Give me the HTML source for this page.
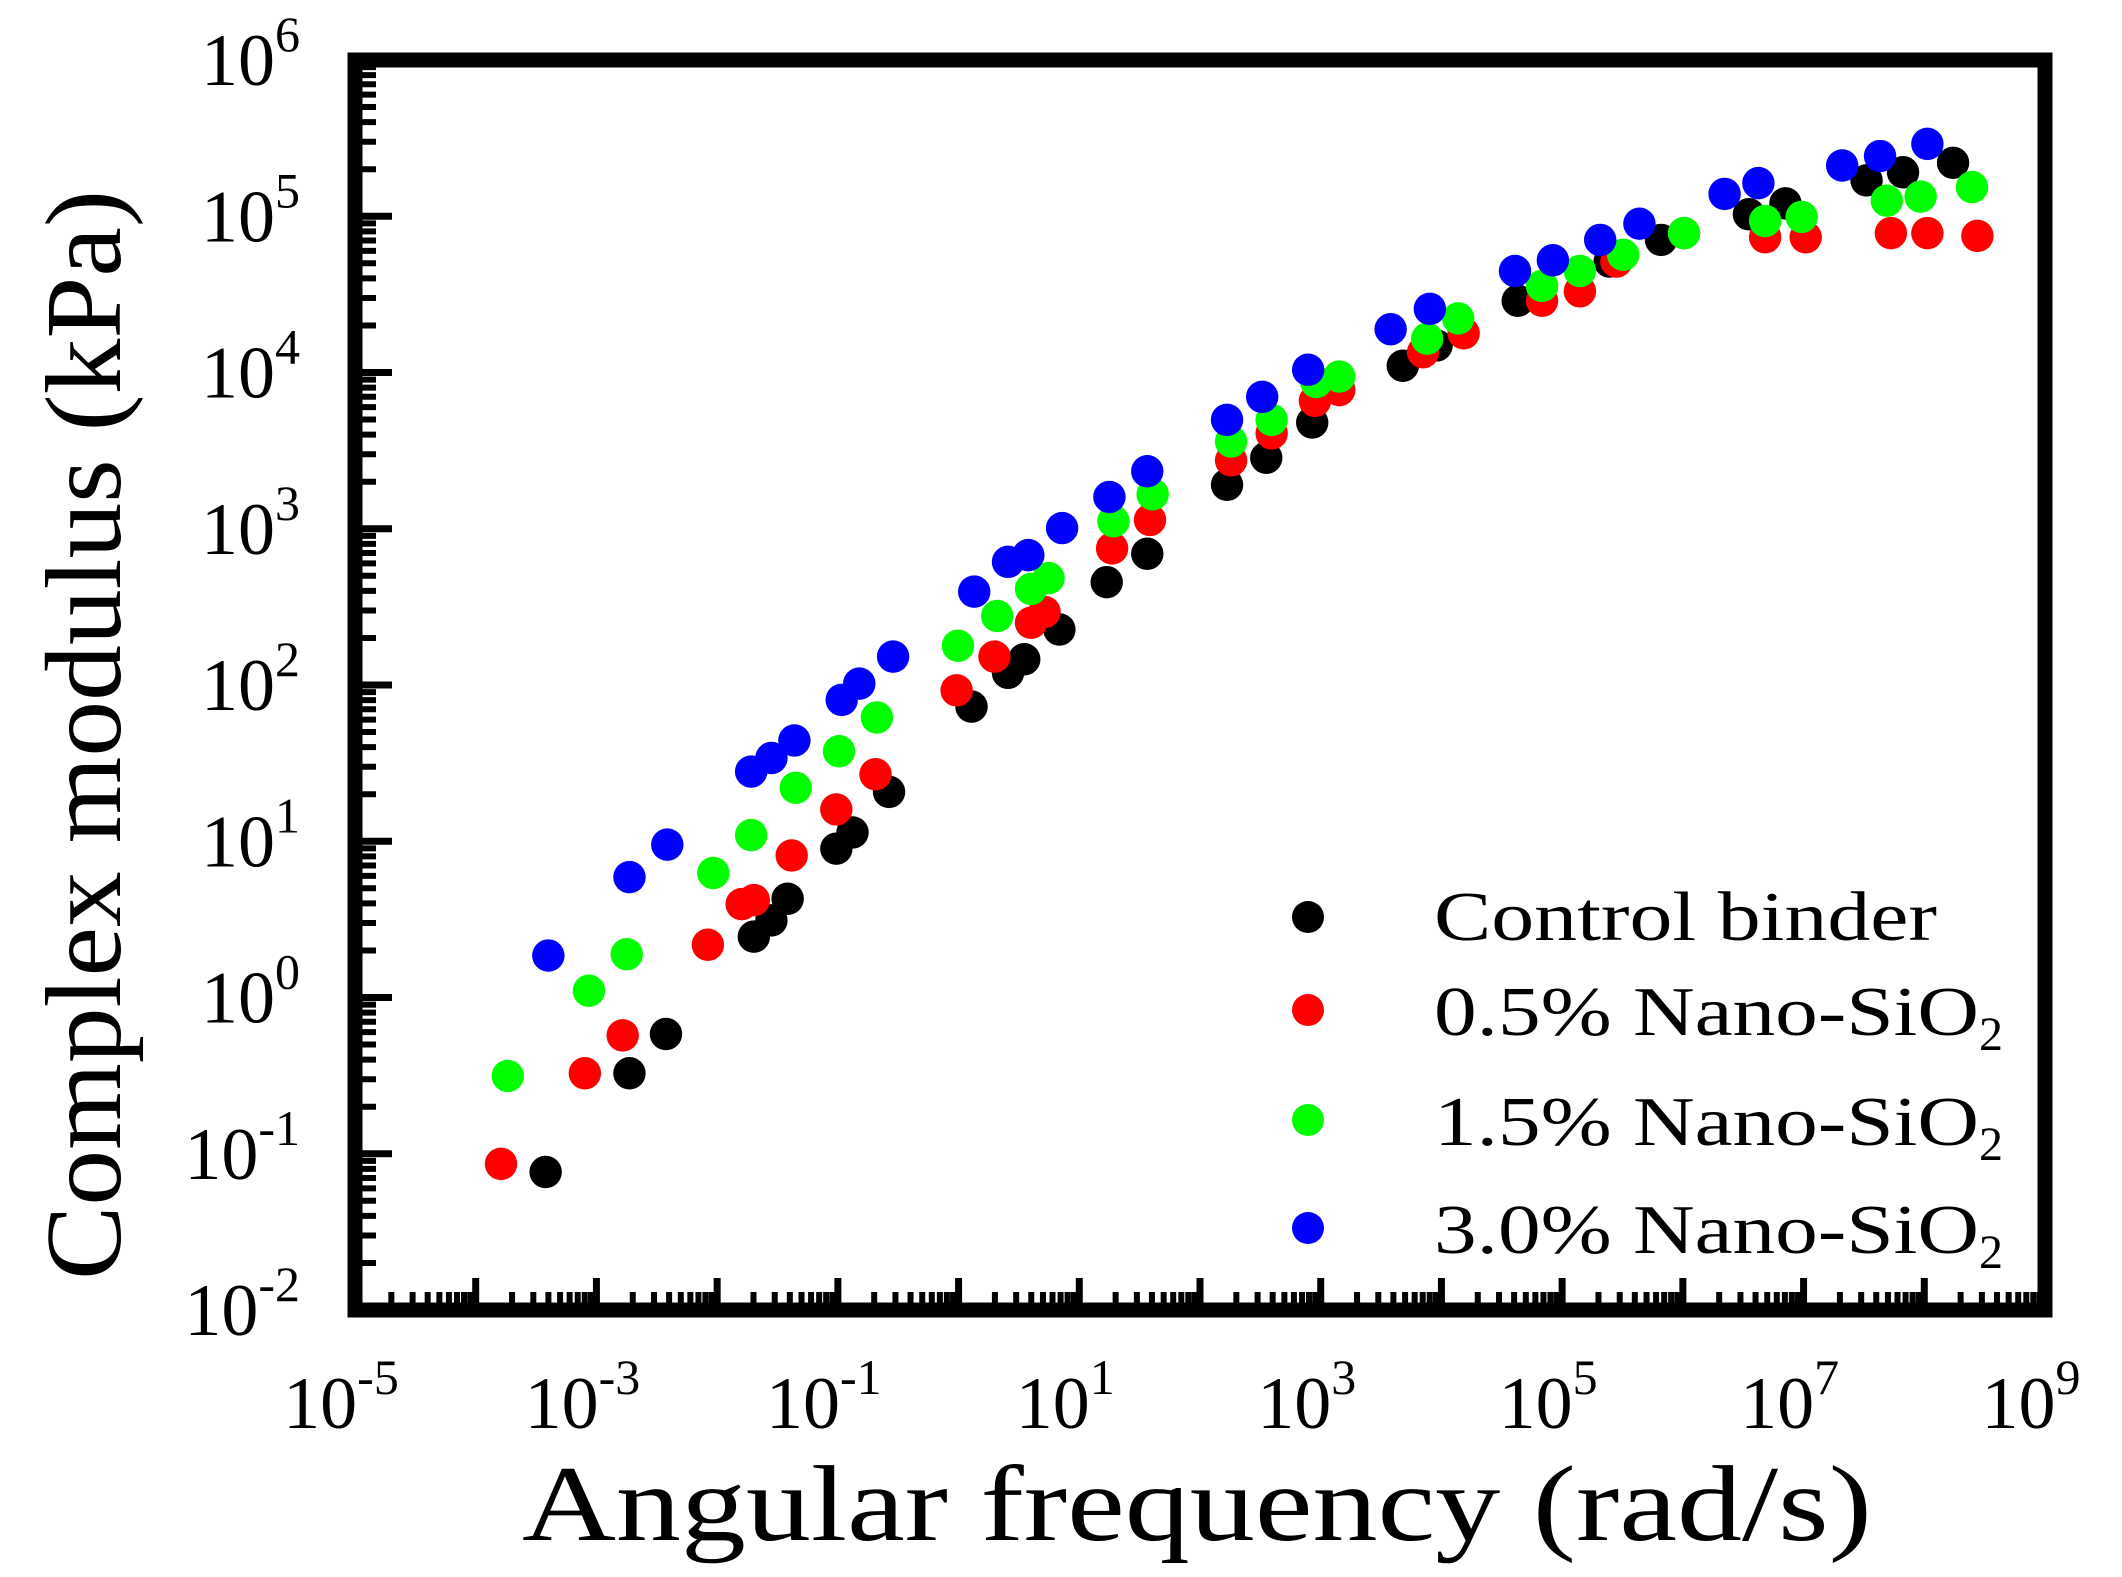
<!DOCTYPE html>
<html><head><meta charset="utf-8"><style>
html,body{margin:0;padding:0;background:#fff;}
svg{display:block;}
text{font-family:"Liberation Serif",serif;fill:#000;}
</style></head><body>
<svg id="s" width="2122" height="1577" viewBox="0 0 2122 1577" xmlns="http://www.w3.org/2000/svg">
<g id="ticks" stroke="#000" stroke-width="7"></g>
<rect x="355" y="60" width="1690" height="1250" fill="none" stroke="#000" stroke-width="15"/>
<g id="labels"></g>
<text x="522" y="1540" font-size="108" textLength="1350" lengthAdjust="spacingAndGlyphs">Angular frequency (rad/s)</text>
<text transform="translate(120,1280) rotate(-90)" font-size="108" textLength="1090" lengthAdjust="spacingAndGlyphs">Complex modulus (kPa)</text>
<g transform="translate(355,60) scale(1.352,1.3528) translate(-262,-44)">
<g fill="#000">
<circle cx="403" cy="866" r="12"/><circle cx="465" cy="793" r="12"/><circle cx="492" cy="764" r="12"/><circle cx="557" cy="692" r="12"/><circle cx="570" cy="680" r="12"/><circle cx="582" cy="664" r="12"/><circle cx="618" cy="627" r="12"/><circle cx="630" cy="615" r="12"/><circle cx="657" cy="585" r="12"/><circle cx="718" cy="522" r="12"/><circle cx="745" cy="497" r="12"/><circle cx="757" cy="487" r="12"/><circle cx="783" cy="465" r="12"/><circle cx="818" cy="430" r="12"/><circle cx="848" cy="409" r="12"/><circle cx="907" cy="358" r="12"/><circle cx="936" cy="338" r="12"/><circle cx="970" cy="312" r="12"/><circle cx="1037" cy="270" r="12"/><circle cx="1062" cy="255" r="12"/><circle cx="1122" cy="222" r="12"/><circle cx="1190" cy="193" r="12"/><circle cx="1228" cy="177" r="12"/><circle cx="1293" cy="158" r="12"/><circle cx="1320" cy="150" r="12"/><circle cx="1380" cy="133" r="12"/><circle cx="1407" cy="127" r="12"/><circle cx="1444" cy="120" r="12"/>
</g>
<g fill="#ff0000">
<circle cx="370" cy="860" r="12"/><circle cx="432" cy="793" r="12"/><circle cx="460" cy="765" r="12"/><circle cx="523" cy="698" r="12"/><circle cx="548" cy="668" r="12"/><circle cx="557" cy="665" r="12"/><circle cx="585" cy="632" r="12"/><circle cx="618" cy="598" r="12"/><circle cx="647" cy="572" r="12"/><circle cx="707" cy="510" r="12"/><circle cx="735" cy="485" r="12"/><circle cx="762" cy="460" r="12"/><circle cx="772" cy="452" r="12"/><circle cx="822" cy="405" r="12"/><circle cx="850" cy="384" r="12"/><circle cx="910" cy="340" r="12"/><circle cx="940" cy="320" r="12"/><circle cx="972" cy="296" r="12"/><circle cx="990" cy="288" r="12"/><circle cx="1052" cy="260" r="12"/><circle cx="1082" cy="246" r="12"/><circle cx="1140" cy="222" r="12"/><circle cx="1168" cy="215" r="12"/><circle cx="1195" cy="193" r="12"/><circle cx="1245" cy="172" r="12"/><circle cx="1305" cy="175" r="12"/><circle cx="1335" cy="175" r="12"/><circle cx="1398" cy="172" r="12"/><circle cx="1425" cy="172" r="12"/><circle cx="1462" cy="174" r="12"/>
</g>
<g fill="#00ff00">
<circle cx="375" cy="795" r="12"/><circle cx="435" cy="732" r="12"/><circle cx="463" cy="705" r="12"/><circle cx="527" cy="645" r="12"/><circle cx="555" cy="617" r="12"/><circle cx="588" cy="582" r="12"/><circle cx="620" cy="555" r="12"/><circle cx="648" cy="530" r="12"/><circle cx="708" cy="477" r="12"/><circle cx="737" cy="455" r="12"/><circle cx="762" cy="435" r="12"/><circle cx="775" cy="427" r="12"/><circle cx="823" cy="385" r="12"/><circle cx="852" cy="365" r="12"/><circle cx="910" cy="326" r="12"/><circle cx="940" cy="310" r="12"/><circle cx="973" cy="282" r="12"/><circle cx="990" cy="278" r="12"/><circle cx="1055" cy="250" r="12"/><circle cx="1078" cy="235" r="12"/><circle cx="1140" cy="211" r="12"/><circle cx="1168" cy="200" r="12"/><circle cx="1200" cy="188" r="12"/><circle cx="1245" cy="172" r="12"/><circle cx="1305" cy="163" r="12"/><circle cx="1332" cy="160" r="12"/><circle cx="1395" cy="148" r="12"/><circle cx="1420" cy="145" r="12"/><circle cx="1458" cy="138" r="12"/>
</g>
<g fill="#0000ff">
<circle cx="405" cy="706" r="12"/><circle cx="465" cy="648" r="12"/><circle cx="493" cy="624" r="12"/><circle cx="555" cy="570" r="12"/><circle cx="570" cy="560" r="12"/><circle cx="587" cy="547" r="12"/><circle cx="622" cy="517" r="12"/><circle cx="635" cy="505" r="12"/><circle cx="660" cy="485" r="12"/><circle cx="720" cy="437" r="12"/><circle cx="745" cy="415" r="12"/><circle cx="760" cy="410" r="12"/><circle cx="785" cy="390" r="12"/><circle cx="820" cy="367" r="12"/><circle cx="848" cy="348" r="12"/><circle cx="907" cy="310" r="12"/><circle cx="933" cy="293" r="12"/><circle cx="967" cy="273" r="12"/><circle cx="1028" cy="243" r="12"/><circle cx="1057" cy="228" r="12"/><circle cx="1120" cy="200" r="12"/><circle cx="1148" cy="192" r="12"/><circle cx="1183" cy="177" r="12"/><circle cx="1212" cy="165" r="12"/><circle cx="1275" cy="143" r="12"/><circle cx="1300" cy="135" r="12"/><circle cx="1362" cy="122" r="12"/><circle cx="1390" cy="115" r="12"/><circle cx="1425" cy="106" r="12"/>
</g>
</g>
<circle cx="1308" cy="917" r="16" fill="#000"/>
<circle cx="1308" cy="1010" r="16" fill="#ff0000"/>
<circle cx="1308" cy="1120" r="16" fill="#00ff00"/>
<circle cx="1308" cy="1228" r="16" fill="#0000ff"/>
<text x="1434" y="940" font-size="70" textLength="503" lengthAdjust="spacingAndGlyphs">Control binder</text>
<text x="1434" y="1035" font-size="70"><tspan textLength="545" lengthAdjust="spacingAndGlyphs">0.5% Nano-SiO</tspan><tspan font-size="48" dy="15">2</tspan></text>
<text x="1434" y="1145" font-size="70"><tspan textLength="545" lengthAdjust="spacingAndGlyphs">1.5% Nano-SiO</tspan><tspan font-size="48" dy="15">2</tspan></text>
<text x="1434" y="1253" font-size="70"><tspan textLength="545" lengthAdjust="spacingAndGlyphs">3.0% Nano-SiO</tspan><tspan font-size="48" dy="15">2</tspan></text>
</svg>
<script>
var NS="http://www.w3.org/2000/svg";
var T=document.getElementById("ticks"),L=document.getElementById("labels");
function ln(x1,y1,x2,y2,w){var l=document.createElementNS(NS,"line");l.setAttribute("x1",x1);l.setAttribute("y1",y1);l.setAttribute("x2",x2);l.setAttribute("y2",y2);if(w)l.setAttribute("stroke-width",w);T.appendChild(l);}
var X0=355,XW=1690/14,Y0=1310,YH=1250/8;
for(var k=0;k<=8;k++){var y=Y0-k*YH;ln(355,y,392,y);
 if(k<8)for(var n=2;n<=9;n++){var yy=y-Math.log10(n)*YH;ln(355,yy,376,yy,6);}
 var t=document.createElementNS(NS,"text");t.setAttribute("x",300);t.setAttribute("y",y+25);t.setAttribute("font-size","74");t.setAttribute("text-anchor","end");
 t.innerHTML="10<tspan font-size='50' dy='-34'>"+(k-2<0?"-"+(2-k):(k-2))+"</tspan>";L.appendChild(t);}
for(var k=0;k<=14;k++){var x=X0+k*XW;ln(x,1310,x,1278);
 if(k<14)for(var n=2;n<=9;n++){var xx=x+Math.log10(n)*XW;ln(xx,1310,xx,1292,6);}
 if(k%2==0){var e=k-5;var t=document.createElementNS(NS,"text");t.setAttribute("x",x-14);t.setAttribute("y",1428);t.setAttribute("font-size","74");t.setAttribute("text-anchor","middle");
 t.innerHTML="10<tspan font-size='50' dy='-34'>"+e+"</tspan>";L.appendChild(t);}}
</script>
</body></html>
